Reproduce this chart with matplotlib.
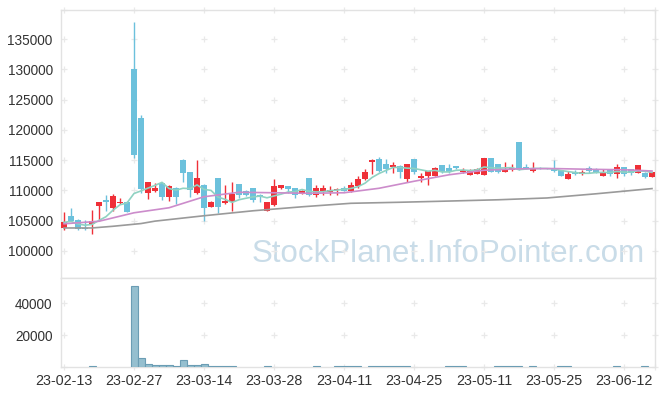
import numpy as np
import pandas as pd
import matplotlib
matplotlib.use('Agg')
import matplotlib.pyplot as plt

# tick labels every 10 trading days
dates = ['23-02-13', '23-02-27', '23-03-14', '23-03-28', '23-04-11',
         '23-04-25', '23-05-11', '23-05-25', '23-06-12']

opens = [103800, 105700, 105150, 103800, 104500, 107400, 108450, 107100, 107870, 108050,
         130000, 121900, 109600, 109900, 111200, 108900, 110300, 114950, 112950, 109600,
         110800, 107250, 111950, 107900, 108050, 111000, 109800, 110300, 109150, 106600,
         107600, 110450, 110650, 110300, 109450, 111950, 109200, 109700, 109650, 110000,
         110350, 109900, 110700, 111800, 114700, 115100, 114300, 113850, 114000, 111800,
         115100, 111950, 112350, 112350, 114150, 113750, 113950, 113050, 112550, 112750,
         112550, 115300, 114300, 113050, 113300, 118000, 113850, 113200, 113750, 113650,
         113600, 113300, 111800, 113000, 112650, 113750, 113450, 112350, 113400, 112650,
         113850, 113450, 112900, 112850, 112200]
highs = [106400, 107000, 105300, 105100, 106700, 108100, 109170, 109450, 108800, 108300,
         137800, 122400, 111400, 111200, 111300, 110900, 110500, 115150, 113000, 115000,
         111000, 108300, 112000, 110800, 111400, 111100, 110100, 110400, 109450, 108100,
         111800, 110850, 110700, 110400, 110000, 112000, 110900, 110800, 110700, 110400,
         110700, 111300, 112350, 113450, 115250, 115500, 115250, 114600, 114100, 114400,
         115200, 112900, 113200, 113800, 114200, 114300, 114000, 113700, 113500, 113700,
         115350, 115350, 114350, 114600, 114300, 118000, 114400, 114700, 113800, 113700,
         115000, 113400, 113200, 113300, 113400, 114000, 113700, 113500, 113500, 114300,
         113900, 113600, 114200, 113000, 113050]
lows = [103400, 104900, 103500, 103500, 102700, 104900, 106580, 106530, 107800, 106400,
        115400, 109500, 108500, 109700, 108350, 108300, 107800, 111400, 108900, 109400,
        105000, 107200, 106200, 107700, 106500, 108800, 109000, 108000, 108050, 106500,
        107400, 110250, 109500, 108800, 109400, 109000, 108900, 109300, 109200, 109200,
        109800, 109700, 110300, 111700, 112750, 113000, 112900, 112850, 111950, 111400,
        112700, 111300, 110800, 112300, 112800, 112800, 113600, 112900, 112500, 112700,
        112500, 113000, 112900, 113000, 113200, 113400, 113500, 113100, 113500, 113550,
        113100, 112300, 111800, 112600, 112550, 112900, 112800, 112300, 112300, 111950,
        112400, 112600, 112800, 111950, 112150]
closes = [104700, 105000, 103600, 103600, 104870, 108020, 108080, 109000, 108050, 106400,
          115800, 110250, 111300, 110300, 108900, 110700, 108900, 112850, 110000, 112000,
          107000, 108050, 107300, 108200, 109450, 109170, 109300, 108400, 108900, 108000,
          110700, 110800, 110150, 109200, 109800, 109200, 110300, 110300, 110100, 110250,
          109900, 110950, 111800, 112950, 114950, 113200, 113500, 114250, 113050, 114300,
          112950, 112350, 113150, 113750, 112950, 112950, 113700, 113400, 113300, 113550,
          115300, 113050, 113050, 113600, 113700, 113600, 113600, 113600, 113600, 113600,
          113200, 112350, 112750, 112750, 113000, 113200, 112950, 112900, 112650, 113850,
          112650, 112900, 114100, 112200, 113000]
volumes = [0, 0, 0, 0, 500, 0, 0, 0, 0, 0,
           51000, 5500, 1700, 1100, 1100, 1100, 500, 4200, 1100, 1100,
           1700, 500, 500, 500, 500, 0, 0, 0, 0, 400,
           0, 0, 0, 0, 0, 0, 400, 0, 0, 400,
           400, 400, 400, 0, 400, 900, 400, 400, 400, 400,
           0, 0, 0, 0, 0, 400, 400, 400, 0, 0,
           0, 0, 400, 400, 400, 400, 0, 400, 0, 0,
           0, 400, 400, 0, 0, 0, 0, 0, 0, 400,
           0, 0, 0, 400, 0]

# moving averages (they need history before the window)
ma20_at = [0, 5, 10, 15, 20, 25, 30, 35, 40, 45, 50, 55, 60, 65, 70, 75, 80, 84]
ma20 = [104460, 104880, 106280, 107110, 108930, 109670, 109590, 109500, 109590, 110330,
        111490, 112560, 113310, 113550, 113590, 113470, 113390, 113190]
ma_long_at = [0, 4, 7, 11, 13, 20, 27, 34, 41, 48, 55, 62, 69, 76, 84]
ma_long = [103770, 103770, 104050, 104500, 104900, 105790, 106610, 107270, 107850, 108020,
           108220, 108430, 108730, 109420, 110280]

up_color = '#ef3038'
down_color = '#6cc1dc'
grid_color = '#e9e9e9'
text_color = '#333333'

plt.rcParams['font.family'] = ['Liberation Sans', 'DejaVu Sans']

W, H = 665, 396
fig = plt.figure(figsize=(W / 100, H / 100), dpi=100)
ax = fig.add_axes([61 / W, 1 - 278 / H, 594 / W, 268 / H])
axv = fig.add_axes([61 / W, 1 - 367 / H, 594 / W, 89 / H], sharex=ax)

x = np.arange(len(closes))
o = np.array(opens)
h = np.array(highs)
l = np.array(lows)
c = np.array(closes)
v = np.array(volumes)
up = c >= o
colors = np.where(up, up_color, down_color)

ax.vlines(x, l, h, colors=colors, lw=1, zorder=2)
ax.bar(x, np.maximum(np.abs(c - o), 150), bottom=np.minimum(o, c), width=0.72,
       color=colors, zorder=3)

ma5 = pd.Series(closes).rolling(5, min_periods=1).mean()
ax.plot(x, ma5, color='#8fd2c2', lw=1.2, zorder=4)
ax.plot(ma20_at, ma20, color='#cc8ccb', lw=1.2, zorder=4)
ax.plot(ma_long_at, ma_long, color='#9a9a9a', lw=1.2, zorder=4)

ax.text(0.982, 0.088, 'StockPlanet.InfoPointer.com', transform=ax.transAxes,
        ha='right', va='center', fontsize=22.5, color='#c9dce8', zorder=1)

m = v > 0
axv.bar(x[m], v[m], width=1.0, color='#95bfcf', edgecolor='#6b9db4', lw=0.8, zorder=3)

xmin, xmax = -0.43, 84.43
ax.set_xlim(xmin, xmax)
ax.set_ylim(95500, 139800)
axv.set_ylim(0, 56000)

price_ticks = list(range(100000, 135001, 5000))
ax.set_yticks(price_ticks)
ax.set_yticklabels([str(t) for t in price_ticks])
vol_ticks = [20000, 40000]
axv.set_yticks(vol_ticks)
axv.set_yticklabels([str(t) for t in vol_ticks])
tick_pos = list(range(0, 81, 10))
axv.set_xticks(tick_pos)
axv.set_xticklabels(dates)
ax.tick_params(axis='x', labelbottom=False)

# little crosses at grid intersections
gx = tick_pos + [xmax]
for a, ys in ((ax, price_ticks + [139800]), (axv, [0] + vol_ticks)):
    X, Y = np.meshgrid(gx, ys)
    a.plot(X.ravel(), Y.ravel(), '+', color=grid_color, ms=4, mew=0.9,
           clip_on=False, zorder=1)
    a.tick_params(length=0, labelsize=9.8, colors=text_color, pad=6)
    for s in a.spines.values():
        s.set_color('#e2e2e2')
        s.set_linewidth(1)
axv.tick_params(axis='x', pad=5, labelsize=10.3)

fig.savefig('out.png', dpi=100, facecolor='white')
